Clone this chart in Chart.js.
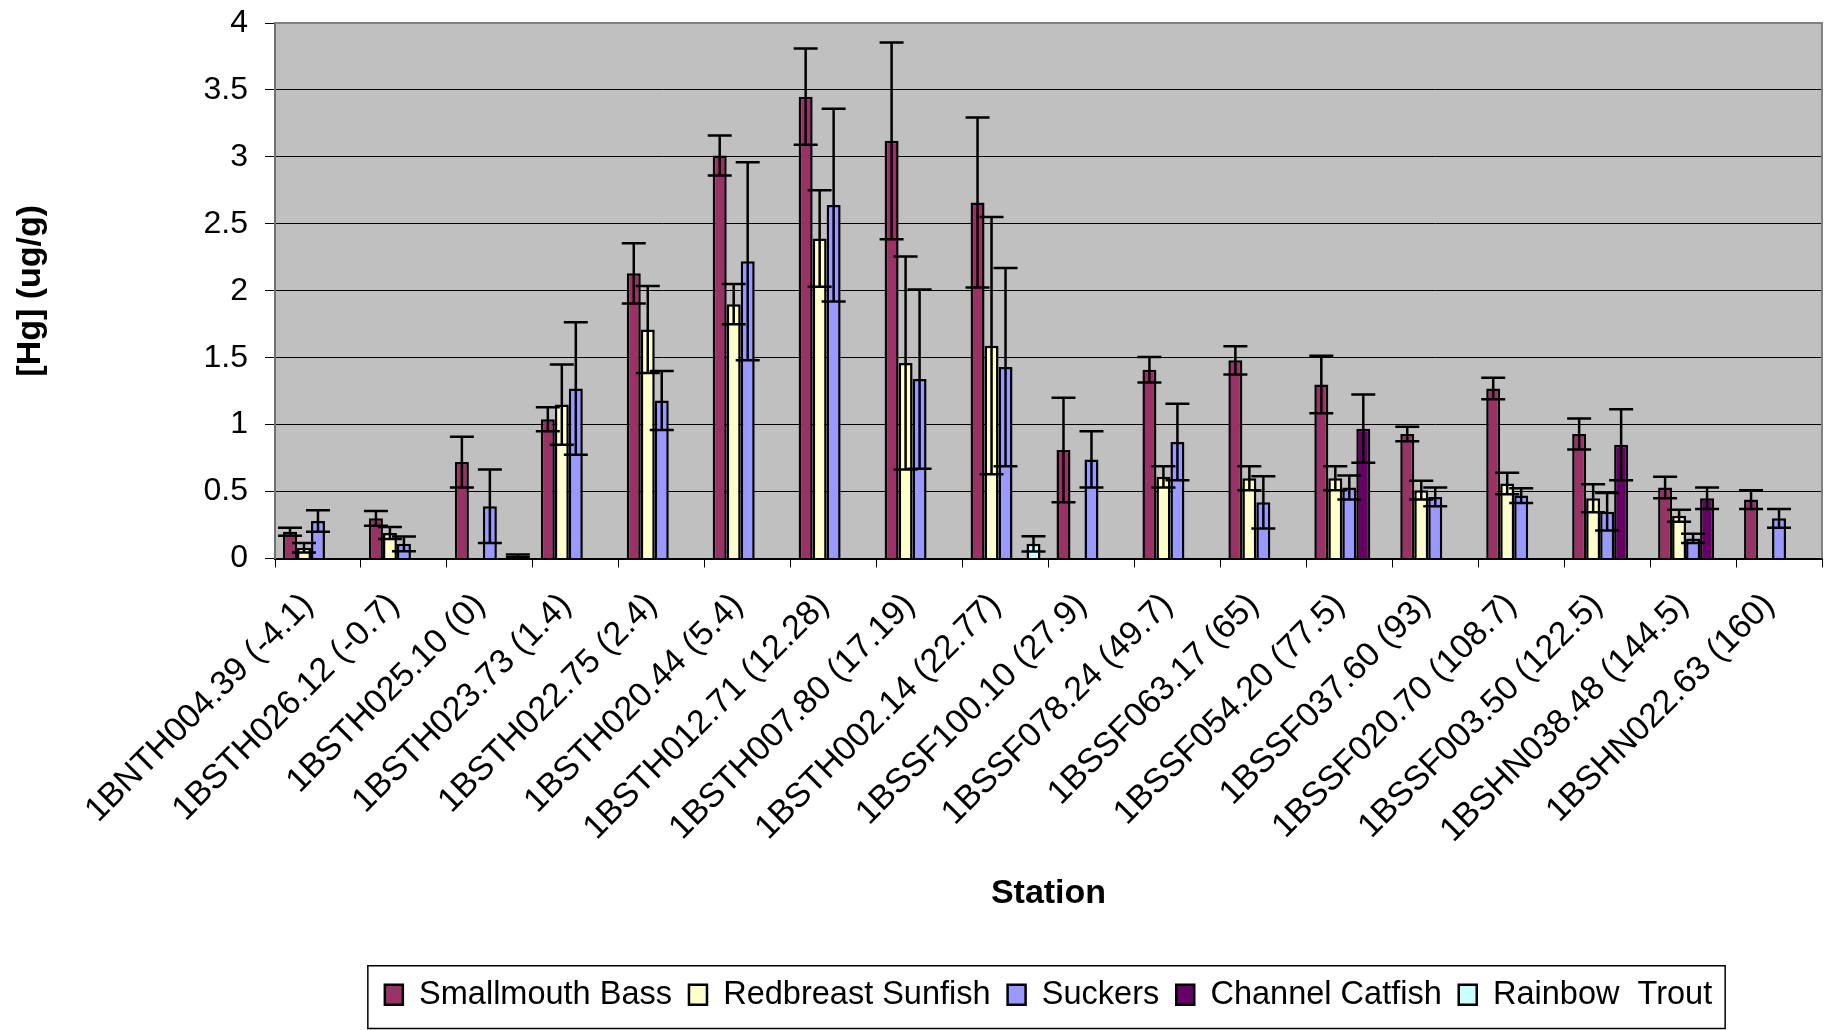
<!DOCTYPE html>
<html>
<head>
<meta charset="utf-8">
<script src="https://cdn.jsdelivr.net/npm/chart.js@4"></script>
<style>
  html, body { margin: 0; padding: 0; background: #fff; }
</style>
</head>
<body>
<canvas id="hgChart" width="1832" height="1030"></canvas>
<script>
// ------------------------------------------------------------
// Hg in fish tissue by station - bars with +/- error bars
// ------------------------------------------------------------

const stations = [
  "1BNTH004.39 (-4.1)", "1BSTH026.12 (-0.7)", "1BSTH025.10 (0)", "1BSTH023.73 (1.4)",
  "1BSTH022.75 (2.4)", "1BSTH020.44 (5.4)", "1BSTH012.71 (12.28)", "1BSTH007.80 (17.19)",
  "1BSTH002.14 (22.77)", "1BSSF100.10 (27.9)", "1BSSF078.24 (49.7)", "1BSSF063.17 (65)",
  "1BSSF054.20 (77.5)", "1BSSF037.60 (93)", "1BSSF020.70 (108.7)", "1BSSF003.50 (122.5)",
  "1BSHN038.48 (144.5)", "1BSHN022.63 (160)"
];

const smallmouth    = [0.20, 0.30, 0.72, 1.04, 2.13, 3.01, 3.45, 3.12, 2.66, 0.81, 1.41, 1.48, 1.30, 0.93, 1.27, 0.93, 0.53, 0.44];
const smallmouthErr = [0.03, 0.055, 0.19, 0.09, 0.225, 0.15, 0.36, 0.735, 0.635, 0.39, 0.095, 0.105, 0.215, 0.055, 0.08, 0.115, 0.08, 0.07];

const redbreast    = [0.08, 0.19, null, 1.15, 1.71, 1.90, 2.39, 1.46, 1.59, null, 0.61, 0.60, 0.60, 0.51, 0.56, 0.45, 0.32, null];
const redbreastErr = [0.035, 0.045, null, 0.30, 0.325, 0.15, 0.36, 0.795, 0.96, null, 0.08, 0.09, 0.09, 0.07, 0.08, 0.105, 0.045, null];

const suckers    = [0.28, 0.11, 0.39, 1.27, 1.18, 2.22, 2.64, 1.34, 1.43, 0.74, 0.87, 0.42, 0.53, 0.46, 0.47, 0.35, 0.15, 0.30];
const suckersErr = [0.08, 0.055, 0.275, 0.495, 0.22, 0.74, 0.72, 0.67, 0.74, 0.21, 0.285, 0.195, 0.09, 0.07, 0.055, 0.14, 0.035, 0.07];

const catfish    = [null, null, null, null, null, null, null, null, null, null, null, null, 0.97, null, null, 0.85, 0.45, null];
const catfishErr = [null, null, null, null, null, null, null, null, null, null, null, null, 0.255, null, null, 0.265, 0.08, null];

const trout    = [null, null, 0.02, null, null, null, null, null, 0.11, null, null, null, null, null, null, null, null, null];
const troutErr = [null, null, 0.01, null, null, null, null, null, 0.057, null, null, null, null, null, null, null, null, null];

const yTicks = [0, 0.5, 1, 1.5, 2, 2.5, 3, 3.5, 4];

const FONT = "'Liberation Sans', Arial, sans-serif";

// gray plot background + gray top/right frame
const plotFrame = {
  id: "plotFrame",
  beforeDraw(chart) {
    const { ctx, chartArea: a } = chart;
    ctx.save();
    ctx.fillStyle = "#c0c0c0";
    ctx.fillRect(a.left, a.top, a.right - a.left, a.bottom - a.top);
    ctx.restore();
  },
  afterDraw(chart) {
    const { ctx, chartArea: a } = chart;
    ctx.save();
    ctx.strokeStyle = "#808080";
    ctx.lineWidth = 2;
    ctx.beginPath();
    ctx.moveTo(a.left, a.top);
    ctx.lineTo(a.right, a.top);
    ctx.lineTo(a.right, a.bottom);
    ctx.stroke();
    ctx.restore();
  }
};

// error bars (value +/- err) drawn on top of each bar
const errorBars = {
  id: "errorBars",
  afterDatasetsDraw(chart) {
    const { ctx } = chart;
    const y = chart.scales.y;
    ctx.save();
    ctx.strokeStyle = "#000";
    ctx.lineWidth = 2.5;
    chart.data.datasets.forEach((ds, di) => {
      const meta = chart.getDatasetMeta(di);
      if (meta.hidden) return;
      meta.data.forEach((bar, i) => {
        const v = ds.data[i], e = ds.errors[i];
        if (v == null || e == null) return;
        const yHi = y.getPixelForValue(v + e);
        const yLo = y.getPixelForValue(v - e);
        const x = bar.x, cap = 12;
        ctx.beginPath();
        ctx.moveTo(x, yHi); ctx.lineTo(x, yLo);
        ctx.moveTo(x - cap, yHi); ctx.lineTo(x + cap, yHi);
        ctx.moveTo(x - cap, yLo); ctx.lineTo(x + cap, yLo);
        ctx.stroke();
      });
    });
    ctx.restore();
  }
};

// frame around the legend
const legendBox = {
  id: "legendBox",
  afterDraw(chart) {
    const hb = chart.legend && chart.legend.legendHitBoxes;
    if (!hb || !hb.length) return;
    const first = hb[0], last = hb[hb.length - 1];
    const cy = first.top + first.height / 2;
    const ctx = chart.ctx;
    const top = cy - 29, bottom = chart.height - 1.5;
    ctx.save();
    ctx.strokeStyle = "#000";
    ctx.lineWidth = 1.5;
    ctx.strokeRect(first.left - 17, top, last.left + last.width + 30 - first.left, bottom - top);
    ctx.restore();
  }
};

function makeSet(label, data, errors, color) {
  return {
    label, data, errors,
    backgroundColor: color,
    borderColor: "#000",
    borderWidth: 2.5,
    categoryPercentage: 0.814,
    barPercentage: 1.0,
  };
}

new Chart(document.getElementById("hgChart"), {
  type: "bar",
  data: {
    labels: stations,
    datasets: [
      makeSet("Smallmouth Bass", smallmouth, smallmouthErr, "#993366"),
      makeSet("Redbreast Sunfish", redbreast, redbreastErr, "#ffffcc"),
      makeSet("Suckers", suckers, suckersErr, "#9999ff"),
      makeSet("Channel Catfish", catfish, catfishErr, "#660066"),
      makeSet("Rainbow  Trout", trout, troutErr, "#ccffff"),
    ]
  },
  options: {
    responsive: false,
    animation: false,
    devicePixelRatio: 1,
    layout: { padding: { top: 23, right: 10, bottom: 9, left: 0 } },
    plugins: {
      legend: {
        position: "bottom",
        fullSize: false,
        labels: {
          color: "#000",
          font: { family: FONT, size: 32.5 },
          boxWidth: 18, boxHeight: 20,
          padding: 17,
        }
      },
      tooltip: { enabled: false },
    },
    scales: {
      x: {
        grid: { drawOnChartArea: false, drawTicks: true, tickLength: 9, color: "#000", offset: true },
        border: { color: "#000", width: 2 },
        ticks: {
          color: "#000", font: { family: FONT, size: 34 },
          minRotation: 45, maxRotation: 45, autoSkip: false, padding: 18, labelOffset: -10,
        },
        title: {
          display: true, text: "Station", color: "#000",
          font: { family: FONT, size: 34, weight: "bold" },
          padding: { top: 0, bottom: 47 },
        },
        afterFit(scale) { scale.height = 403; },
      },
      y: {
        min: 0, max: 4,
        afterBuildTicks(scale) { scale.ticks = yTicks.map(v => ({ value: v })); },
        grid: { color: "#000", lineWidth: 1, drawTicks: true, tickLength: 10 },
        border: { color: "#707070", width: 2 },
        ticks: {
          color: "#000", font: { family: FONT, size: 32 }, padding: 17,
          callback: v => String(v),
        },
        title: {
          display: true, text: "[Hg] (ug/g)", color: "#000",
          font: { family: FONT, size: 34, weight: "bold" },
          padding: { top: 10, bottom: 0 },
        },
        afterFit(scale) {
          scale.width = 275;
          scale.paddingTop = 0;
          scale.paddingBottom = 0;
        },
      }
    }
  },
  plugins: [plotFrame, errorBars, legendBox]
});
</script>
</body>
</html>
